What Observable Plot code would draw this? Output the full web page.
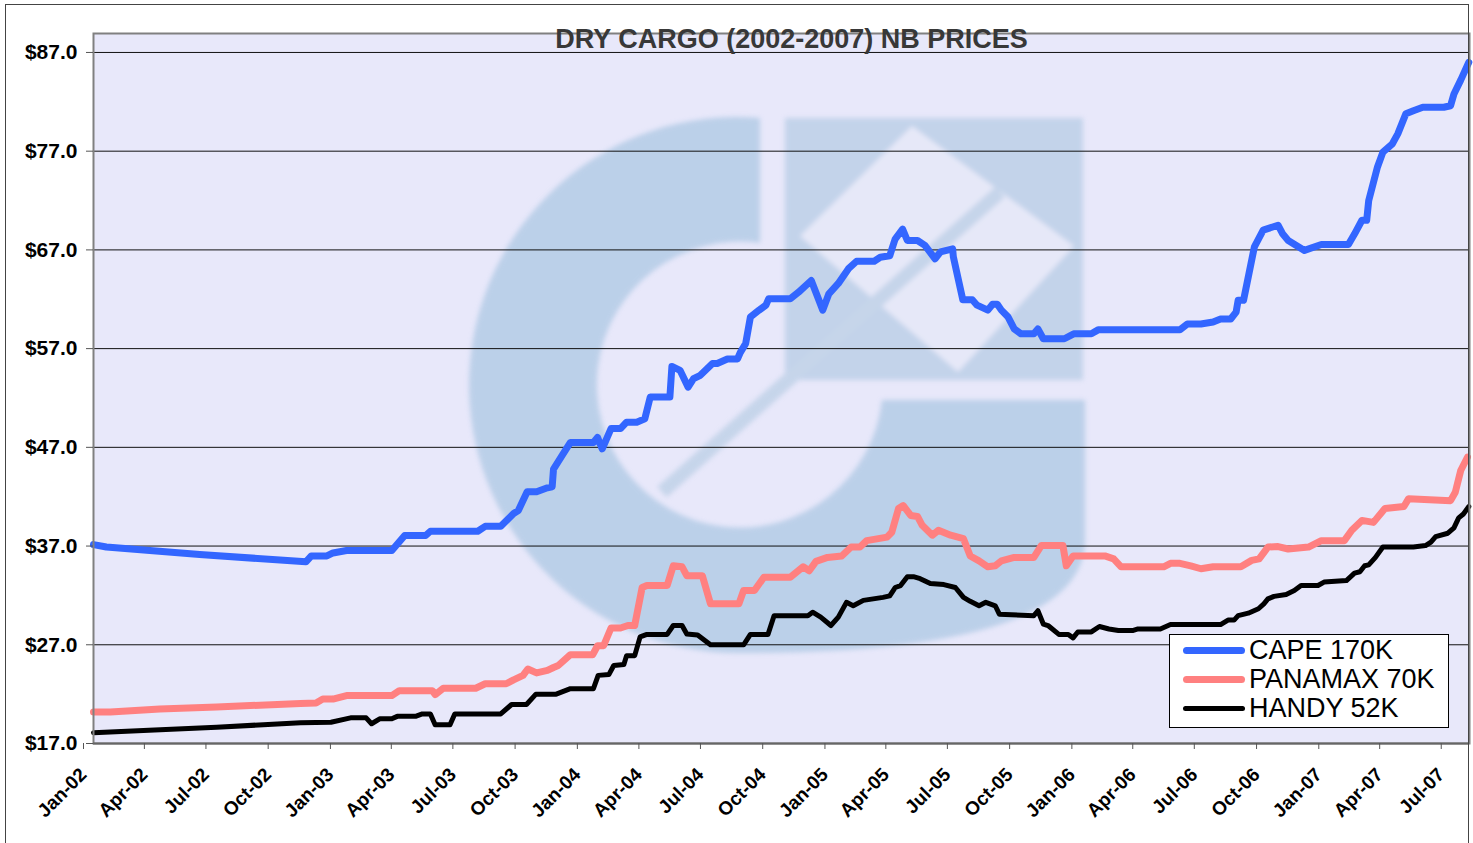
<!DOCTYPE html>
<html>
<head>
<meta charset="utf-8">
<script src="https://cdn.jsdelivr.net/npm/d3@7"></script>
<script src="https://cdn.jsdelivr.net/npm/@observablehq/plot@0.6"></script>
<style>
  html, body { margin: 0; padding: 0; background: #fff; }
  #wrap { position: relative; width: 1473px; height: 843px; overflow: hidden; font-family: "Liberation Sans", Arial, sans-serif; }
  #plotbg { position: absolute; left: 93px; top: 33px; width: 1376px; height: 710px; background: #E8E8FA; }
  #mark { position: absolute; left: 0; top: 0; }
  #outer { position: absolute; left: 5px; top: 4px; width: 1464px; height: 860px; border: 1.5px solid #444; box-sizing: border-box; pointer-events: none; }
  #chart { position: absolute; left: 0; top: 0; }
  #chart svg text { font-family: "Liberation Sans", Arial, sans-serif; }
  #chart g[aria-label="y-axis tick label"] text, #chart g[aria-label="x-axis tick label"] text { font-weight: bold; fill: #000; }
  #legend { position: absolute; left: 1169px; top: 634px; width: 280px; height: 94px; background: #fff; border: 1px solid #000; box-sizing: border-box; }
  .item { position: absolute; left: 13px; height: 29px; display: flex; align-items: center; }
  .sw { width: 62px; border-radius: 4px; margin-right: 4px; }
  .lab { font-size: 27px; color: #000; line-height: 29px; }
</style>
</head>
<body>
<div id="wrap">
  <div id="plotbg"></div>
  <!-- faint company logo watermark behind the plot (decoration, not data) -->
  <svg id="mark" width="1473" height="843">
    <defs><filter id="soft"><feGaussianBlur stdDeviation="2.5"/></filter></defs>
    <g filter="url(#soft)" opacity="0.7">
      <path d="M760,118 A268,268 0 1 0 740,653 Q1085,653 1085,540 L1085,400 L882,400 A143,143 0 1 1 760,243 Z" fill="#A9C6E2"/>
      <rect x="785" y="118" width="298" height="262" fill="#B4CBE4"/>
      <path d="M800,236 L912,126 L1074,246 L958,372 Z" fill="#E6E9F8"/>
      <line x1="662" y1="492" x2="1000" y2="192" stroke="#B8CDE4" stroke-width="14"/>
    </g>
  </svg>
  <div id="chart"></div>
  <div id="outer"></div>
  <div id="legend"></div>
</div>
<script>
// ---- data ----
const title = "DRY CARGO (2002-2007) NB PRICES";
const seriesNames = ["CAPE 170K", "PANAMAX 70K", "HANDY 52K"];
const seriesColors = ["#3366FF", "#FF8080", "#000000"];
const seriesWidths = [7, 7, 5];
const yTicks = [17, 27, 37, 47, 57, 67, 77, 87];
const xTicks = ["2002-01-01","2002-04-01","2002-07-01","2002-10-01","2003-01-01","2003-04-01","2003-07-01","2003-10-01","2004-01-01","2004-04-01","2004-07-01","2004-10-01","2005-01-01","2005-04-01","2005-07-01","2005-10-01","2006-01-01","2006-04-01","2006-07-01","2006-10-01","2007-01-01","2007-04-01","2007-07-01"];
const xDomain = ["2002-01-01", "2007-07-28"];
const yDomain = [17, 88.92];

const cape = [["2002-01-01",37.15],["2002-01-20",36.9],["2002-06-07",36.15],["2002-11-11",35.4],["2002-11-19",36.0],["2002-12-12",36.0],["2002-12-21",36.3],["2003-01-10",36.55],["2003-03-18",36.55],["2003-04-06",38.07],["2003-05-07",38.07],["2003-05-14",38.5],["2003-07-23",38.5],["2003-08-03",39.0],["2003-08-26",39.0],["2003-09-14",40.3],["2003-09-21",40.6],["2003-10-04",42.5],["2003-10-18",42.5],["2003-11-03",42.9],["2003-11-10",43.0],["2003-11-12",44.8],["2003-11-25",46.2],["2003-12-07",47.5],["2004-01-10",47.5],["2004-01-16",48.0],["2004-01-23",46.85],["2004-02-05",48.9],["2004-02-19",48.9],["2004-02-28",49.55],["2004-03-14",49.55],["2004-03-26",49.9],["2004-04-03",52.1],["2004-05-02",52.1],["2004-05-05",55.2],["2004-05-17",54.8],["2004-05-29",53.1],["2004-06-06",53.95],["2004-06-16",54.3],["2004-07-04",55.5],["2004-07-11",55.5],["2004-07-26",55.95],["2004-08-10",55.95],["2004-08-14",56.6],["2004-08-22",57.5],["2004-08-29",60.2],["2004-09-11",60.9],["2004-09-21",61.4],["2004-09-25",62.05],["2004-10-27",62.05],["2004-11-08",62.7],["2004-11-27",63.9],["2004-12-14",60.9],["2004-12-23",62.55],["2005-01-06",63.6],["2005-01-21",65.1],["2005-02-02",65.85],["2005-02-28",65.85],["2005-03-09",66.25],["2005-03-23",66.4],["2005-03-31",68.1],["2005-04-11",69.1],["2005-04-18",67.95],["2005-05-03",67.95],["2005-05-14",67.45],["2005-05-29",66.1],["2005-06-06",66.8],["2005-06-24",67.1],["2005-06-25",66.3],["2005-07-09",61.95],["2005-07-23",61.95],["2005-07-30",61.4],["2005-08-15",60.9],["2005-08-22",61.5],["2005-08-29",61.5],["2005-09-04",60.9],["2005-09-14",60.2],["2005-09-23",59.0],["2005-10-03",58.5],["2005-10-22",58.5],["2005-10-28",59.0],["2005-11-05",58.0],["2005-12-06",58.0],["2005-12-20",58.5],["2006-01-15",58.5],["2006-01-25",58.9],["2006-05-26",58.9],["2006-06-06",59.5],["2006-06-26",59.5],["2006-07-14",59.7],["2006-07-25",60.0],["2006-08-09",60.0],["2006-08-17",60.7],["2006-08-20",61.9],["2006-08-28",61.9],["2006-09-13",67.3],["2006-09-26",69.0],["2006-10-18",69.5],["2006-10-25",68.6],["2006-11-02",67.95],["2006-11-26",66.95],["2006-12-21",67.55],["2007-01-30",67.55],["2007-02-08",68.6],["2007-02-19",70.0],["2007-02-26",70.0],["2007-03-01",72.0],["2007-03-14",75.4],["2007-03-22",76.9],["2007-04-05",77.75],["2007-04-13",78.75],["2007-04-25",80.8],["2007-05-06",81.1],["2007-05-20",81.45],["2007-06-20",81.45],["2007-06-30",81.6],["2007-07-05",82.8],["2007-07-15",84.2],["2007-07-27",86.0]];

const panamax = [["2002-01-01",20.2],["2002-01-26",20.2],["2002-04-09",20.5],["2002-07-02",20.7],["2002-11-03",21.05],["2002-11-26",21.1],["2002-12-06",21.5],["2002-12-21",21.5],["2003-01-10",21.85],["2003-03-18",21.85],["2003-03-29",22.35],["2003-05-17",22.35],["2003-05-21",21.95],["2003-06-02",22.6],["2003-07-20",22.6],["2003-08-03",23.05],["2003-09-03",23.05],["2003-09-14",23.45],["2003-09-28",23.9],["2003-10-05",24.55],["2003-10-18",24.15],["2003-11-03",24.4],["2003-11-12",24.7],["2003-11-19",24.9],["2003-12-07",26.0],["2004-01-09",26.0],["2004-01-16",26.9],["2004-01-25",26.9],["2004-02-05",28.7],["2004-02-19",28.7],["2004-03-01",28.95],["2004-03-11",28.95],["2004-03-22",32.8],["2004-03-29",33.0],["2004-04-28",33.0],["2004-05-07",35.0],["2004-05-20",34.9],["2004-05-27",34.0],["2004-06-19",34.0],["2004-07-01",31.15],["2004-08-12",31.15],["2004-08-19",32.5],["2004-09-04",32.5],["2004-09-18",33.85],["2004-10-27",33.85],["2004-11-15",34.9],["2004-11-24",34.5],["2004-12-04",35.45],["2004-12-21",35.85],["2005-01-11",36.0],["2005-01-25",36.9],["2005-02-07",36.9],["2005-02-17",37.55],["2005-03-19",37.9],["2005-03-26",38.4],["2005-04-05",40.8],["2005-04-12",41.1],["2005-04-23",40.1],["2005-05-03",40.0],["2005-05-10",39.1],["2005-05-25",38.1],["2005-06-03",38.6],["2005-06-21",38.1],["2005-07-10",37.75],["2005-07-20",36.0],["2005-08-02",35.5],["2005-08-15",34.9],["2005-08-26",35.0],["2005-09-04",35.5],["2005-09-23",35.85],["2005-10-22",35.85],["2005-11-02",37.05],["2005-12-04",37.05],["2005-12-09",35.0],["2005-12-19",36.0],["2006-02-04",36.0],["2006-02-17",35.7],["2006-02-28",34.9],["2006-05-02",34.9],["2006-05-12",35.25],["2006-05-26",35.25],["2006-06-11",35.0],["2006-06-26",34.7],["2006-07-14",34.9],["2006-08-24",34.9],["2006-09-09",35.55],["2006-09-20",35.7],["2006-10-03",36.9],["2006-10-18",36.95],["2006-11-02",36.7],["2006-12-02",36.9],["2006-12-21",37.55],["2007-01-24",37.55],["2007-02-04",38.6],["2007-02-19",39.6],["2007-03-08",39.4],["2007-03-25",40.8],["2007-04-22",41.0],["2007-04-29",41.8],["2007-06-30",41.6],["2007-07-07",42.45],["2007-07-15",44.65],["2007-07-25",46.0]];

const handy = [["2002-01-01",18.1],["2002-03-24",18.35],["2002-07-02",18.65],["2002-11-03",19.1],["2002-12-18",19.15],["2003-01-16",19.6],["2003-02-08",19.6],["2003-02-16",19.0],["2003-02-28",19.5],["2003-03-18",19.5],["2003-03-26",19.75],["2003-04-22",19.75],["2003-05-02",20.0],["2003-05-14",20.0],["2003-05-21",18.9],["2003-06-12",18.9],["2003-06-19",20.0],["2003-08-26",20.0],["2003-09-11",20.95],["2003-10-03",20.95],["2003-10-17",22.0],["2003-11-16",22.0],["2003-12-07",22.55],["2004-01-10",22.55],["2004-01-17",23.9],["2004-02-02",24.0],["2004-02-09",24.9],["2004-02-24",25.0],["2004-02-28",25.9],["2004-03-11",25.9],["2004-03-19",27.8],["2004-03-29",28.05],["2004-04-28",28.05],["2004-05-07",28.95],["2004-05-20",28.95],["2004-05-27",28.1],["2004-06-12",28.0],["2004-07-01",27.0],["2004-08-19",27.0],["2004-08-29",28.05],["2004-09-24",28.05],["2004-10-03",29.95],["2004-11-22",29.95],["2004-11-29",30.3],["2004-12-11",29.8],["2004-12-26",28.95],["2005-01-06",29.8],["2005-01-18",31.3],["2005-01-28",30.95],["2005-02-12",31.5],["2005-03-13",31.8],["2005-03-23",31.95],["2005-03-31",32.8],["2005-04-08",33.0],["2005-04-18",33.9],["2005-04-27",33.9],["2005-05-07",33.7],["2005-05-22",33.2],["2005-06-11",33.1],["2005-06-28",32.8],["2005-07-10",31.8],["2005-07-20",31.4],["2005-08-02",30.95],["2005-08-12",31.3],["2005-08-26",30.95],["2005-09-01",30.1],["2005-10-22",29.95],["2005-10-28",30.45],["2005-11-05",29.1],["2005-11-12",28.95],["2005-11-28",28.05],["2005-12-12",28.05],["2005-12-19",27.7],["2005-12-26",28.3],["2006-01-15",28.3],["2006-01-27",28.85],["2006-02-10",28.6],["2006-02-24",28.45],["2006-03-18",28.45],["2006-03-25",28.6],["2006-04-27",28.6],["2006-05-12",29.05],["2006-07-25",29.05],["2006-08-05",29.5],["2006-08-14",29.5],["2006-08-20",29.95],["2006-09-04",30.2],["2006-09-19",30.65],["2006-09-27",31.15],["2006-10-03",31.65],["2006-10-12",31.9],["2006-10-30",32.1],["2006-11-11",32.5],["2006-11-21",33.0],["2006-12-16",33.0],["2006-12-25",33.35],["2007-01-27",33.5],["2007-02-08",34.25],["2007-02-16",34.4],["2007-02-23",35.0],["2007-03-01",35.1],["2007-03-11",35.85],["2007-03-22",36.9],["2007-05-06",36.9],["2007-05-24",37.05],["2007-06-01",37.4],["2007-06-08",37.95],["2007-06-26",38.3],["2007-07-05",38.85],["2007-07-12",39.85],["2007-07-19",40.25],["2007-07-27",41.0]];

// ---- build ----
const parse = d3.utcParse("%Y-%m-%d");
const toRows = arr => arr.map(([d, v]) => ({date: parse(d), value: v}));
const allSeries = [cape, panamax, handy].map(toRows);

const lineMarks = allSeries.map((rows, i) =>
  Plot.line(rows, {x: "date", y: "value", stroke: seriesColors[i], strokeWidth: seriesWidths[i], strokeLinejoin: "round", strokeLinecap: "round"})
);

const chart = Plot.plot({
  width: 1473,
  height: 843,
  marginLeft: 93,
  marginTop: 33,
  marginRight: 4,
  marginBottom: 100,
  style: {background: "transparent", fontFamily: "'Liberation Sans', Arial, sans-serif", overflow: "visible"},
  x: {type: "utc", domain: xDomain.map(parse)},
  y: {domain: yDomain},
  marks: [
    Plot.ruleY(yTicks.slice(1), {stroke: "#111", strokeWidth: 1}),
    ...lineMarks,
    Plot.frame({stroke: "#808080", strokeWidth: 2}),
    Plot.ruleY([yDomain[0]], {stroke: "#666", strokeWidth: 2}),
    Plot.axisY({ticks: yTicks, tickFormat: d => "$" + d.toFixed(1), tickSize: 7, tickPadding: 9, fontSize: 21, label: null, stroke: "#555"}),
    Plot.axisX({ticks: xTicks.map(parse), tickFormat: d3.utcFormat("%b-%y"), tickRotate: -45, tickSize: 6, tickPadding: 22, fontSize: 19, label: null, stroke: "#555", dx: -10}),
    Plot.text([title], {frameAnchor: "top", lineAnchor: "middle", dy: 6, dx: 10, fontSize: 27, fontWeight: "bold", fill: "#383838"})
  ]
});
document.getElementById("chart").appendChild(chart);

// legend
const legend = document.getElementById("legend");
seriesNames.forEach((name, i) => {
  const item = document.createElement("div");
  item.className = "item";
  item.style.top = (1 + i * 29) + "px";
  const sw = document.createElement("div");
  sw.className = "sw";
  sw.style.height = seriesWidths[i] + "px";
  sw.style.background = seriesColors[i];
  const lab = document.createElement("span");
  lab.className = "lab";
  lab.textContent = name;
  item.appendChild(sw);
  item.appendChild(lab);
  legend.appendChild(item);
});
</script>
</body>
</html>
